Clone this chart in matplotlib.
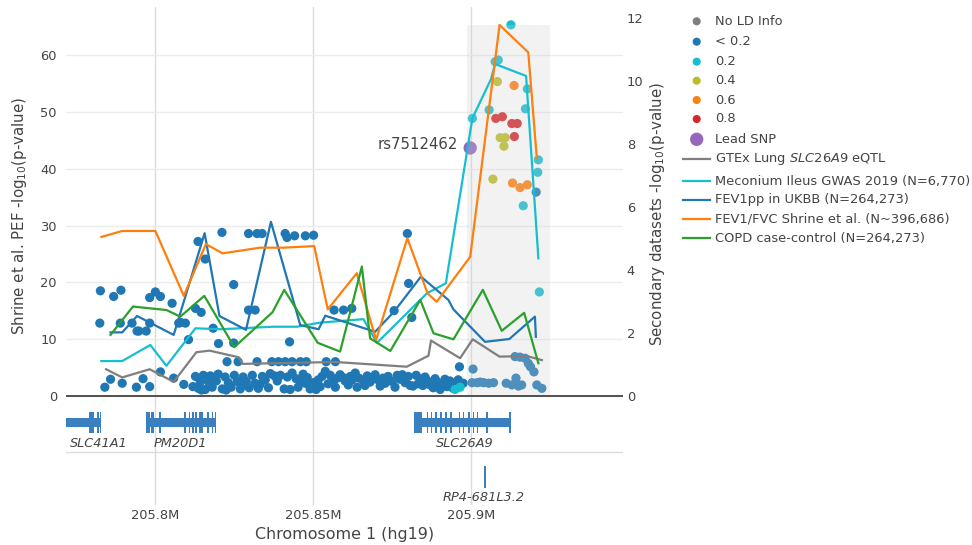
import matplotlib
matplotlib.use('Agg')
import matplotlib.pyplot as plt
from matplotlib.patches import Rectangle

plt.rcParams['font.family'] = ['DejaVu Sans']
TXT = '#444444'

# ---------------- data ----------------
# LD < 0.2 (dark blue)
lt02_x = [205.7827, 205.7869, 205.7892, 205.7825, 205.7890, 205.7927, 205.7943, 205.7949, 205.7972,
          205.7983, 205.7983, 205.8001, 205.8017, 205.8054, 205.8075, 205.8082, 205.8096, 205.8106,
          205.8128, 205.8146, 205.8136, 205.8159, 205.8212, 205.8184, 205.8201, 205.8249, 205.8249,
          205.8296, 205.8323, 205.8339, 205.8296, 205.8317, 205.8412, 205.8418, 205.8442, 205.8476,
          205.8502, 205.8426, 205.8567, 205.8597, 205.8623, 205.8757, 205.8799, 205.8803, 205.8813,
          205.8228, 205.8263, 205.8323, 205.8370, 205.8391, 205.8412, 205.8434, 205.8460, 205.8479,
          205.8542, 205.8571, 205.8964,
          205.7841, 205.7859, 205.7896, 205.7941, 205.7962, 205.7983, 205.8017, 205.8059, 205.8091,
          205.8120,
          205.8128, 205.8137, 205.8143, 205.8153, 205.8159, 205.8169, 205.8175, 205.8181, 205.8194,
          205.8200, 205.8213, 205.8222, 205.8232, 205.8241, 205.8251, 205.8260, 205.8270, 205.8279,
          205.8289, 205.8298, 205.8308, 205.8317, 205.8327, 205.8340, 205.8349, 205.8359, 205.8378,
          205.8387, 205.8409, 205.8419, 205.8434, 205.8447, 205.8460, 205.8469, 205.8482, 205.8491,
          205.8501, 205.8510, 205.8517, 205.8529, 205.8539, 205.8555, 205.8564, 205.8577, 205.8586,
          205.8602, 205.8618, 205.8634, 205.8646, 205.8659, 205.8672, 205.8681, 205.8697, 205.8706,
          205.8722, 205.8738, 205.8751, 205.8767, 205.8776, 205.8792, 205.8802, 205.8817, 205.8827,
          205.8839, 205.8848, 205.8861, 205.8871, 205.8881, 205.8893, 205.8903, 205.8912, 205.8925,
          205.8934, 205.8944, 205.8960, 205.8976,
          205.8147, 205.8188, 205.8225, 205.8282, 205.8333, 205.8365, 205.8397, 205.8428, 205.8453,
          205.8476, 205.8523, 205.8548, 205.8571, 205.8596, 205.8612, 205.8624, 205.8640, 205.8665,
          205.8688, 205.8713, 205.8729, 205.8760, 205.8783, 205.8808, 205.8833, 205.8855, 205.8887,
          205.8918, 205.8950, 205.8890, 205.8928,
          205.9007, 205.9004, 205.9020, 205.9030, 205.9041, 205.9057, 205.9072, 205.9112, 205.9130,
          205.9143, 205.9151, 205.9161, 205.9140, 205.9156, 205.9172, 205.9182, 205.9189, 205.9200,
          205.9209, 205.9225, 205.9207]
lt02_y = [18.5, 17.5, 18.6, 12.8, 12.8, 12.8, 11.4, 11.4, 11.4,
          12.8, 17.3, 18.3, 17.5, 16.3, 12.8, 12.9, 12.8, 9.9,
          15.4, 14.7, 27.2, 24.1, 28.8, 11.9, 9.2, 19.6, 9.3,
          28.6, 28.6, 28.6, 15.1, 15.1, 28.6, 27.9, 28.2, 28.2,
          28.3, 9.5, 15.1, 15.1, 15.4, 15.0, 28.6, 19.8, 13.8,
          6.0, 6.0, 6.0, 6.0, 6.0, 6.0, 6.0, 6.0, 6.0,
          6.0, 6.0, 5.1,
          1.5, 2.9, 2.2, 1.5, 3.0, 1.6, 4.2, 3.1, 2.0,
          1.6,
          3.4, 1.3, 2.4, 3.6, 1.1, 2.5, 3.5, 1.5, 2.6,
          3.8, 1.2, 3.3, 2.3, 1.5, 3.6, 2.5, 1.2, 3.3,
          2.5, 1.4, 3.6, 2.2, 1.3, 3.4, 2.8, 1.4, 3.5,
          2.6, 1.2, 3.3, 4.0, 3.0, 2.6, 3.8, 3.2, 1.2,
          2.3, 1.1, 2.8, 3.4, 4.3, 3.6, 2.5, 3.1, 3.7,
          2.6, 3.4, 4.0, 3.1, 2.7, 3.5, 2.4, 3.7, 2.8,
          3.1, 3.4, 2.5, 3.6, 2.9, 2.3, 3.4, 1.7, 3.6,
          3.0, 1.8, 2.7, 1.9, 1.4, 2.4, 1.1, 2.0, 1.6,
          2.6, 1.3, 2.8, 2.2,
          1.0, 3.2, 1.0, 2.0, 2.0, 3.9, 3.6, 1.1, 1.5,
          2.2, 1.6, 2.1, 1.5, 3.2, 1.9, 2.8, 1.5, 1.8,
          3.0, 1.7, 2.2, 1.5, 3.7, 1.8, 2.1, 3.3, 3.0,
          2.9, 1.8, 1.7, 2.2,
          4.7, 2.3, 2.3, 2.4, 2.3, 2.2, 2.3, 2.2, 1.9,
          3.1, 1.7, 1.9, 6.9, 6.8, 6.6, 5.7, 5.1, 4.2,
          1.9, 1.3, 35.9]

ld02_x = [205.8950, 205.8966, 205.9005, 205.9058, 205.9077, 205.9087, 205.9127, 205.9179, 205.9173,
          205.9166, 205.9214, 205.9212, 205.9217]
ld02_y = [1.1, 1.5, 48.9, 50.4, 58.9, 59.2, 65.4, 54.1, 50.6, 33.5, 41.6, 39.4, 18.3]

ld04_x = [205.9084, 205.9093, 205.9109, 205.9105, 205.9070]
ld04_y = [55.4, 45.5, 45.5, 44.0, 38.2]

ld06_x = [205.9137, 205.9132, 205.9156, 205.9179]
ld06_y = [54.7, 37.5, 36.7, 37.2]

ld08_x = [205.9079, 205.9100, 205.9130, 205.9147, 205.9138]
ld08_y = [48.9, 49.2, 48.0, 48.0, 45.7]

lead_x = [205.8998]
lead_y = [43.7]
lead_name = 'rs7512462'

# secondary datasets (-log10 p)
gtex_x = [205.7845, 205.7896, 205.7983, 205.8059, 205.8131, 205.8173, 205.8265, 205.8278, 205.8571,
          205.8797, 205.8866, 205.8874, 205.8966, 205.9006, 205.9091, 205.9177, 205.9225]
gtex_y = [0.84, 0.58, 0.84, 0.44, 1.38, 1.43, 1.22, 1.01, 1.07, 0.92, 1.27, 1.75, 1.19, 1.79, 1.24,
          1.26, 1.13]

mec_x = [205.7830, 205.7896, 205.7985, 205.8036, 205.8128, 205.8207, 205.8375, 205.8449, 205.8523,
         205.8660, 205.8703, 205.8861, 205.8921, 205.9005, 205.9064, 205.9077, 205.9175, 205.9214]
mec_y = [1.10, 1.10, 1.61, 0.95, 2.14, 2.11, 2.19, 2.19, 2.32, 2.43, 1.68, 3.25, 3.57, 8.81, 10.05,
         10.53, 10.15, 4.36]

fev_x = [205.7859, 205.7896, 205.7943, 205.8059, 205.8157, 205.8204, 205.8288, 205.8367, 205.8460,
         205.8518, 205.8539, 205.8697, 205.8757, 205.8842, 205.8929, 205.8945, 205.9045, 205.9122,
         205.9203, 205.9206]
fev_y = [2.01, 2.01, 2.53, 1.93, 5.16, 2.53, 2.09, 5.52, 2.24, 2.11, 2.54, 2.03, 2.67, 3.78, 3.04,
         2.74, 1.71, 1.80, 2.51, 1.87]

ratio_x = [205.7830, 205.7896, 205.8001, 205.8091, 205.8161, 205.8214, 205.8333, 205.8407, 205.8504,
           205.8547, 205.8639, 205.8700, 205.8799, 205.8863, 205.8892, 205.8998, 205.9091, 205.9182,
           205.9209]
ratio_y = [5.04, 5.23, 5.23, 3.17, 4.81, 4.52, 4.70, 4.70, 4.75, 2.74, 3.89, 1.77, 5.00, 3.25, 2.98,
           4.41, 11.77, 10.90, 7.54]

copd_x = [205.7859, 205.7930, 205.8036, 205.8080, 205.8156, 205.8251, 205.8372, 205.8409, 205.8515,
          205.8586, 205.8655, 205.8681, 205.8745, 205.8840, 205.8882, 205.8945, 205.9038, 205.9098,
          205.9169, 205.9214]
copd_y = [1.93, 2.83, 2.72, 2.51, 3.17, 1.54, 2.65, 3.36, 1.68, 1.40, 4.10, 1.82, 1.42, 3.04, 1.98,
          1.79, 3.36, 2.06, 2.63, 1.03]

# highlighted region
region_start, region_end, region_top = 205.8989, 205.9251, 65.4

# genes
gene_names = ['SLC41A1', 'PM20D1', 'SLC26A9', 'RP4-681L3.2']
gene_start = [205.7582, 205.7970, 205.8821, 205.9042]
gene_end = [205.7829, 205.8194, 205.9127, 205.9049]
gene_row = [0, 0, 0, 1]
gene_label_x = [205.7821, 205.8080, 205.8982, 205.9042]
gene_exons = [
    [(205.7582, 205.7600), (205.7790, 205.7806), (205.7816, 205.7823), (205.7827, 205.7829)],
    [(205.7970, 205.7985), (205.7988, 205.7996), (205.8014, 205.8019), (205.8093, 205.8098),
     (205.8106, 205.8112), (205.8117, 205.8122), (205.8128, 205.8133), (205.8138, 205.8151),
     (205.8165, 205.8170), (205.8180, 205.8185), (205.8190, 205.8194)],
    [(205.8821, 205.8845), (205.8861, 205.8864), (205.8873, 205.8878), (205.8888, 205.8892),
     (205.8903, 205.8908), (205.8919, 205.8924), (205.8934, 205.8940), (205.8961, 205.8966),
     (205.8975, 205.8980), (205.8992, 205.8998), (205.9006, 205.9010), (205.9019, 205.9024),
     (205.9048, 205.9053), (205.9122, 205.9127)],
    [(205.9042, 205.9049)],
]

x_ticks = [205.80, 205.85, 205.90]
x_tick_labels = ['205.8M', '205.85M', '205.9M']
left_ticks = [0, 10, 20, 30, 40, 50, 60]
right_ticks = [0, 2, 4, 6, 8, 10, 12]

legend_point_labels = ['No LD Info', '< 0.2', '0.2', '0.4', '0.6', '0.8', 'Lead SNP']
legend_point_colors = ['#7f7f7f', '#1f77b4', '#17becf', '#bcbd22', '#ff7f0e', '#d62728', '#9467bd']
legend_line_labels = ['GTEx Lung $\\it{SLC26A9}$ eQTL', 'Meconium Ileus GWAS 2019 (N=6,770)',
                      'FEV1pp in UKBB (N=264,273)', 'FEV1/FVC Shrine et al. (N~396,686)',
                      'COPD case-control (N=264,273)']
legend_line_colors = ['#7f7f7f', '#17becf', '#1f77b4', '#ff7f0e', '#2ca02c']

# ---------------- figure ----------------
W, H = 972, 545
fig = plt.figure(figsize=(W / 100, H / 100), dpi=100)

def fx(px):
    return px / W

def fy(py):
    return 1 - py / H

L, R, T, B = 66, 622.7, 7, 402
ax = fig.add_axes([fx(L), fy(B), (R - L) / W, (B - T) / H])
ax2 = ax.twinx()

xlim = (205.7718, 205.9481)
ax.set_xlim(*xlim)
ax.set_ylim(-1.11, 68.55)
ax2.set_ylim(-0.2, 12.34)

for a in (ax, ax2):
    for s in a.spines.values():
        s.set_visible(False)

ax.set_yticks(left_ticks)
ax.set_xticks(x_ticks)
ax.tick_params(axis='x', length=0, labelbottom=False)
ax.tick_params(axis='y', length=0, pad=6.5, labelsize=9.4, labelcolor=TXT)
ax2.set_yticks(right_ticks)
ax2.tick_params(axis='y', length=0, pad=3, labelsize=9.4, labelcolor=TXT)
ax.grid(axis='y', color='#ececec', lw=1.0)
ax.grid(axis='x', color='#dcdcdc', lw=1.0)
ax.set_axisbelow(True)

pt = dict(s=44, edgecolors='none', zorder=3)
ax.scatter(lt02_x, lt02_y, c='#1f77b4', **pt)
ax.scatter(ld02_x, ld02_y, c='#17becf', **pt)
ax.scatter(ld04_x, ld04_y, c='#bcbd22', **pt)
ax.scatter(ld06_x, ld06_y, c='#ff7f0e', **pt)
ax.scatter(ld08_x, ld08_y, c='#d62728', **pt)
ax.scatter(lead_x, lead_y, c='#9467bd', s=92, edgecolors='none', zorder=3)
ax.annotate(lead_name, xy=(lead_x[0], lead_y[0]), xytext=(-9, 2.5), textcoords='offset points',
            ha='right', va='center', fontsize=10.7, color=TXT)

ax.add_patch(Rectangle((region_start, 0), region_end - region_start, region_top,
                       facecolor='#d0d0d0', alpha=0.27, lw=0, zorder=4))
ax.axhline(0, color='#444444', lw=1.3, zorder=5)

lw = 1.6
ax2.plot(gtex_x, gtex_y, color='#7f7f7f', lw=lw)
ax2.plot(mec_x, mec_y, color='#17becf', lw=lw)
ax2.plot(fev_x, fev_y, color='#1f77b4', lw=lw)
ax2.plot(ratio_x, ratio_y, color='#ff7f0e', lw=lw)
ax2.plot(copd_x, copd_y, color='#2ca02c', lw=lw)

fig.text(fx(20), fy(216), 'Shrine et al. PEF -log$_{10}$(p-value)', rotation=90,
         ha='center', va='center', fontsize=10.8, color=TXT)
fig.text(fx(657), fy(214), 'Secondary datasets -log$_{10}$(p-value)', rotation=90,
         ha='center', va='center', fontsize=10.8, color=TXT)

# ---------------- gene track ----------------
GB = 505
gax = fig.add_axes([fx(L), fy(GB), (R - L) / W, (GB - B) / H], sharex=ax)
for s in gax.spines.values():
    s.set_visible(False)
gax.set_ylim(-1.514, 0.376)
gax.set_yticks([])
gax.set_xticks(x_ticks)
gax.set_xticklabels(x_tick_labels)
gax.tick_params(axis='x', length=0, pad=3, labelsize=9.4, labelcolor=TXT)
gax.grid(axis='x', color='#dcdcdc', lw=1.0)
gax.set_axisbelow(True)
gax.axhline(-0.547, color='#dcdcdc', lw=1.0, zorder=0)
gax.set_xlim(*xlim)

GENE_C = '#3a80c0'
band_h, exon_h = 0.154, 0.398
for name, st, en, row, lx, exons in zip(gene_names, gene_start, gene_end, gene_row,
                                        gene_label_x, gene_exons):
    yc = -row
    gax.add_patch(Rectangle((st, yc - band_h / 2), en - st, band_h, facecolor=GENE_C, lw=0, zorder=2))
    for e0, e1 in exons:
        gax.add_patch(Rectangle((e0, yc - exon_h / 2), e1 - e0, exon_h, facecolor=GENE_C,
                                lw=0, zorder=2))
    gax.text(lx, yc - 0.38, name, ha='center', va='center', fontsize=9.3, style='italic', color=TXT)

fig.text(fx((L + R) / 2), fy(535), 'Chromosome 1 (hg19)', ha='center', va='center',
         fontsize=11.4, color=TXT)

# ---------------- legend ----------------
lax = fig.add_axes([0, 0, 1, 1])
lax.set_xlim(0, W)
lax.set_ylim(H, 0)
lax.axis('off')
lax.patch.set_visible(False)
pt_rows = [21.3, 41.7, 61.7, 80.7, 100, 119, 139.3]
for yy, lab, col in zip(pt_rows, legend_point_labels, legend_point_colors):
    sz = 92 if lab == 'Lead SNP' else 34
    lax.scatter([696.7], [yy], s=sz, c=col, edgecolors='none')
    lax.text(715, yy, lab, ha='left', va='center', fontsize=9.4, color=TXT)
ln_rows = [159.3, 181, 200, 219, 238.3]
for yy, lab, col in zip(ln_rows, legend_line_labels, legend_line_colors):
    lax.plot([682.7, 710], [yy, yy], color=col, lw=lw)
    lax.text(715, yy, lab, ha='left', va='center', fontsize=9.4, color=TXT)

fig.savefig('out.png', dpi=100)
